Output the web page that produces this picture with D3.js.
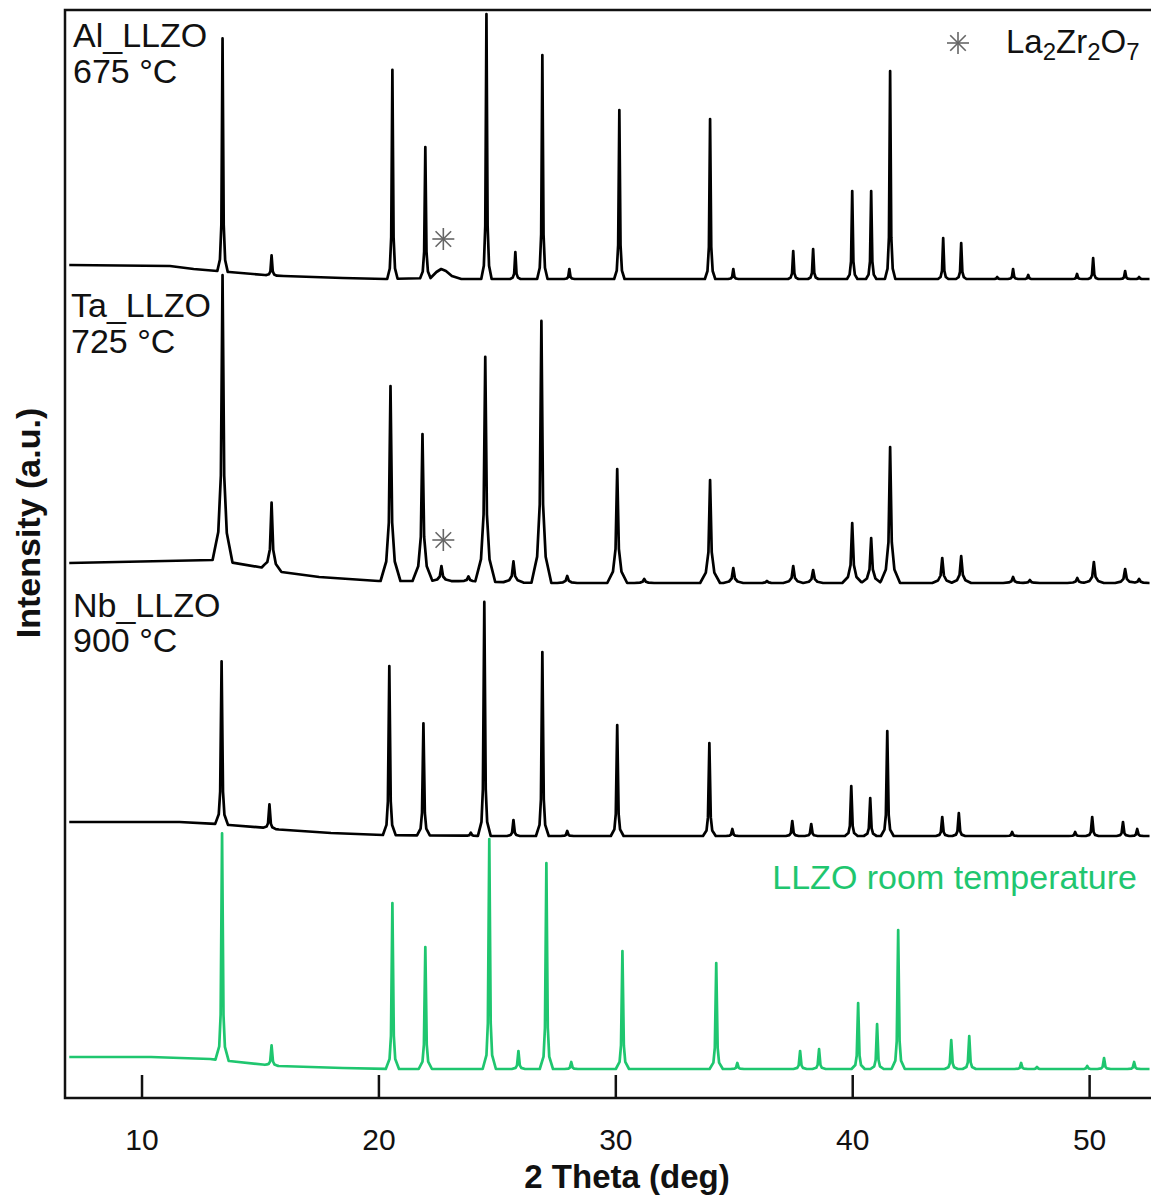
<!DOCTYPE html>
<html>
  <head>
    <meta charset="utf-8">
    <title></title>
    <script src="https://cdnjs.cloudflare.com/ajax/libs/d3/7.8.5/d3.min.js"></script>
    <style type="text/css">
        html, body{
            padding: 0px;
            margin: 0px;
            background: #fff;
        }
        svg text{
            font-family: "Liberation Sans", Arial, Helvetica, sans-serif;
        }
    </style>
  </head>
  <body>
    <div id="vis"></div>
    <script type="text/javascript">

        // x ticks
        var xTicks = [10, 20, 30, 40, 50];

        var seriesNames = ["Al_LLZO", "Ta_LLZO", "Nb_LLZO", "LLZO room temperature"];
        var seriesTemps = ["675 °C", "725 °C", "900 °C", ""];
        // vertical offset of every pattern (a.u.)
        var offsets = [819, 515, 262, 29];

        // background of each pattern: [2theta, a.u. above offset]
        var alBase = [[6.95,14],[11.2,13],[12.2,10],[13.2,8],[13.7,7],[15.2,4],[16,3],[18.5,1],[20.3,0],
                      [22.2,1],[22.45,7],[22.65,10],[22.85,8],[23.1,3],[23.5,0],[52.55,0]];
        var taBase = [[6.95,20],[13.0,23],[13.7,21],[15.2,15],[15.9,11],[17.5,6],[20.0,2],[23,2],[27,0],[52.55,0]];
        var nbBase = [[6.95,14],[11.6,14],[13.2,12],[13.7,11],[15.3,8],[15.8,6.5],[18,3],[20.2,1],[25,0],[52.55,0]];
        var rtBase = [[6.95,12],[10.4,12],[12.9,10],[13.7,8],[15.3,4],[15.8,3],[18.5,1],[20.5,0],[52.55,0]];

        // peaks: [2theta, height above background]
        var alPeaks = [[13.42,233],[15.49,20],[20.59,209],[21.98,131],[24.56,265],[25.78,27],[26.92,224],
                       [28.06,10],[30.17,169],[34.0,160],[34.98,10],[37.51,28],[38.35,30],[40.0,88],
                       [40.8,88],[41.6,208],[43.84,41],[44.6,36],[46.12,2],[46.79,10],[47.43,4],
                       [49.49,5],[50.17,21],[51.52,8],[52.11,2]];
        var taPeaks = [[13.42,286],[15.49,67],[20.51,195],[21.86,147],[22.66,15],[23.8,5],[24.51,225],
                       [25.7,21],[26.88,262],[27.97,7],[30.08,114],[31.22,4],[34.0,103],[34.98,15],
                       [36.4,2],[37.51,17],[38.35,13],[40.0,60],[40.8,45],[41.6,136],[43.8,25],
                       [44.6,27],[46.79,6],[47.5,3],[49.5,5],[50.2,21],[51.52,14],[52.11,4]];
        var nbPeaks = [[13.38,163],[15.4,24],[20.46,169],[21.9,112],[23.9,3],[24.47,234],[25.7,16],
                       [26.92,184],[27.97,5],[30.08,111],[33.97,93],[34.94,7],[37.47,15],[38.27,12],
                       [39.96,50],[40.76,38],[41.48,105],[43.8,19],[44.5,23],[46.75,4],[49.41,4],
                       [50.13,19],[51.43,14],[52.03,7]];
        var rtPeaks = [[13.4,227],[15.49,20],[20.59,166],[21.98,122],[24.68,230],[25.91,18],[27.09,206],
                       [28.14,7],[30.3,118],[34.26,106],[35.15,6],[37.8,18],[38.6,20],[40.25,66],
                       [41.05,45],[41.94,139],[44.18,29],[44.94,33],[47.13,6],[47.8,2],[49.92,3],
                       [50.63,11],[51.9,7]];

        // La2Zr2O7 markers: [2theta, a.u.]
        var markers = [[22.74,859],[22.74,558]];

        var bases = [alBase, taBase, nbBase, rtBase];
        var peaks = [alPeaks, taPeaks, nbPeaks, rtPeaks];
        var colors = ["#000", "#000", "#000", "#1fc66f"];
        // peak profile: half widths (deg) of the spike, the flare and the foot, with the flare levels
        var shapes = [
            {sh: 0.05, f1: 0.2, m: 0.11, f2: 0.05, foot: 0.22},
            {sh: 0.07, f1: 0.3, m: 0.18, f2: 0.1, foot: 0.42},
            {sh: 0.06, f1: 0.2, m: 0.12, f2: 0.06, foot: 0.27},
            {sh: 0.06, f1: 0.2, m: 0.12, f2: 0.06, foot: 0.28}
        ];

        var W = 1151, H = 1195;
        var pL = 65, pR = 1150, pT = 10, pB = 1098;

        var svg = d3.select("#vis").append("svg")
            .attr("width", W)
            .attr("height", H);

        var x = d3.scaleLinear().domain([6.77, 52.57]).range([pL, pR]);
        var y = d3.scaleLinear().domain([0, 1088]).range([pB, pT]);

        function interp(pts, v){
            for(var i = 0; i < pts.length - 1; i++){
                if(v >= pts[i][0] && v <= pts[i+1][0]){
                    var t = (v - pts[i][0]) / (pts[i+1][0] - pts[i][0]);
                    return pts[i][1] + t * (pts[i+1][1] - pts[i][1]);
                }
            }
            return v < pts[0][0] ? pts[0][1] : pts[pts.length-1][1];
        }

        function profile(p, s, v){
            var d = Math.abs(v - p[0]);
            var knots = [[0, 1], [s.sh, s.f1], [s.m, s.f2], [s.foot, 0]];
            if(d >= s.foot) return 0;
            return p[1] * interp(knots, d);
        }

        function buildCurve(i){
            var base = bases[i], pk = peaks[i], s = shapes[i];
            var xs = base.map(d => d[0]);
            pk.forEach(p => {
                [-s.foot, -s.m, -s.sh, 0, s.sh, s.m, s.foot].forEach(o => xs.push(p[0] + o));
            });
            var x0 = base[0][0], x1 = base[base.length-1][0];
            xs = Array.from(new Set(xs.filter(v => v >= x0 && v <= x1))).sort((a, b) => a - b);
            return xs.map(v => {
                var val = offsets[i] + interp(base, v);
                pk.forEach(p => { val += profile(p, s, v); });
                return [v, val];
            });
        }

        var line = d3.line()
            .x(d => x(d[0]))
            .y(d => y(d[1]));

        svg.append("defs").append("clipPath").attr("id", "clip")
            .append("rect")
            .attr("x", pL).attr("y", pT)
            .attr("width", pR - pL).attr("height", pB - pT);

        var plot = svg.append("g").attr("clip-path", "url(#clip)");

        [3, 2, 1, 0].forEach(i => {
            plot.append("path")
                .attr("d", line(buildCurve(i)))
                .attr("fill", "none")
                .attr("stroke", colors[i])
                .attr("stroke-width", 2.7)
                .attr("stroke-linejoin", "round");
        });

        function asterisk(g, cx, cy, r){
            [0, 45, 90, 135].forEach(a => {
                var rad = a * Math.PI / 180;
                g.append("line")
                    .attr("x1", cx - r * Math.cos(rad)).attr("y1", cy - r * Math.sin(rad))
                    .attr("x2", cx + r * Math.cos(rad)).attr("y2", cy + r * Math.sin(rad))
                    .attr("stroke", "#666")
                    .attr("stroke-width", 1.6);
            });
        }

        markers.forEach(m => asterisk(svg, x(m[0]), y(m[1]), 11));

        // frame
        svg.append("rect")
            .attr("x", pL).attr("y", pT)
            .attr("width", pR + 4 - pL).attr("height", pB - pT)
            .attr("fill", "none")
            .attr("stroke", "#111")
            .attr("stroke-width", 2.5);

        // x axis, ticks point inward
        var xAxis = svg.append("g")
            .attr("transform", "translate(0," + pB + ")")
            .call(d3.axisBottom(x).tickValues(xTicks).tickSize(-23).tickPadding(31).tickSizeOuter(0));
        xAxis.select(".domain").remove();
        xAxis.selectAll(".tick line").attr("stroke", "#111").attr("stroke-width", 2.5);
        xAxis.selectAll(".tick text")
            .attr("font-size", 30)
            .attr("fill", "#111")
            .attr("font-family", "'Liberation Sans', Arial, sans-serif");

        svg.append("text")
            .attr("x", 627).attr("y", 1188)
            .attr("text-anchor", "middle")
            .attr("font-size", 33)
            .attr("font-weight", "bold")
            .attr("fill", "#111")
            .text("2 Theta (deg)");

        svg.append("text")
            .attr("transform", "translate(40,523) rotate(-90)")
            .attr("text-anchor", "middle")
            .attr("font-size", 34)
            .attr("font-weight", "bold")
            .attr("fill", "#111")
            .text("Intensity (a.u.)");

        // pattern labels
        var labelPos = [[73, 47, 83], [71, 317, 353], [73, 617, 652]];
        labelPos.forEach((p, i) => {
            svg.append("text").attr("x", p[0]).attr("y", p[1])
                .attr("font-size", 34).attr("fill", "#111").text(seriesNames[i]);
            svg.append("text").attr("x", p[0]).attr("y", p[2])
                .attr("font-size", 34).attr("fill", "#111").text(seriesTemps[i]);
        });

        svg.append("text")
            .attr("x", 1137).attr("y", 889)
            .attr("text-anchor", "end")
            .attr("font-size", 34)
            .attr("fill", colors[3])
            .text(seriesNames[3]);

        // legend
        asterisk(svg, 958, 43, 11);
        var leg = svg.append("text")
            .attr("x", 1006).attr("y", 53)
            .attr("font-size", 33)
            .attr("fill", "#111");
        leg.append("tspan").text("La");
        leg.append("tspan").attr("dy", 7).attr("font-size", 24).text("2");
        leg.append("tspan").attr("dy", -7).text("Zr");
        leg.append("tspan").attr("dy", 7).attr("font-size", 24).text("2");
        leg.append("tspan").attr("dy", -7).text("O");
        leg.append("tspan").attr("dy", 7).attr("font-size", 24).text("7");

    </script>
  </body>
</html>
